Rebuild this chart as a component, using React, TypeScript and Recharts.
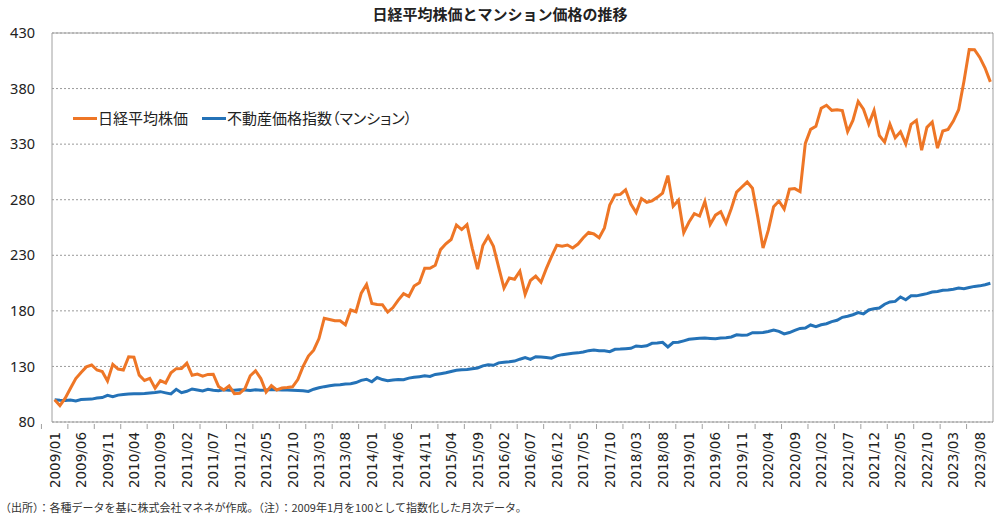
import React from 'react';
import { LineChart, Line, XAxis, YAxis, CartesianGrid, ReferenceLine } from 'recharts';

const years = [2009, 2010, 2011, 2012, 2013, 2014, 2015, 2016, 2017, 2018, 2019, 2020, 2021, 2022, 2023];
const lastMonth2023 = 10;

const nikkei = [
  100.0, 94.7, 101.4, 110.4, 119.1, 124.6, 129.6, 131.3, 126.8, 125.5, 116.9, 131.9,
  127.6, 126.7, 138.7, 138.3, 122.2, 117.4, 119.3, 110.4, 117.2, 115.1, 124.3, 128.0,
  128.1, 132.9, 122.0, 123.2, 121.3, 122.8, 123.0, 112.0, 108.8, 112.4, 105.5, 105.8,
  110.1, 121.6, 126.1, 119.1, 106.9, 112.7, 108.8, 110.6, 111.0, 111.7, 118.2, 130.0,
  139.3, 144.6, 155.1, 173.4, 172.3, 171.1, 171.0, 167.5, 180.8, 179.2, 195.9, 203.8,
  186.6, 185.7, 185.5, 178.9, 183.0, 189.7, 195.4, 193.0, 202.3, 205.3, 218.4, 218.3,
  221.1, 235.1, 240.3, 244.2, 257.2, 253.1, 257.5, 236.3, 217.5, 238.7, 247.0, 238.1,
  219.1, 200.5, 209.6, 208.5, 215.6, 194.8, 207.3, 211.2, 205.8, 218.0, 229.0, 239.1,
  238.2, 239.2, 236.5, 240.1, 245.8, 250.6, 249.2, 245.8, 254.6, 275.3, 284.3, 284.8,
  288.9, 276.1, 268.4, 281.1, 277.7, 279.0, 282.1, 286.0, 301.7, 274.2, 279.6, 250.4,
  259.9, 267.5, 265.3, 278.4, 257.7, 266.1, 269.2, 259.0, 272.1, 286.8, 291.4, 295.9,
  290.3, 264.5, 236.6, 252.6, 273.7, 278.8, 271.6, 289.5, 290.0, 287.4, 330.7, 343.3,
  346.0, 362.3, 365.0, 360.4, 361.0, 360.2, 341.3, 351.4, 368.4, 361.4, 348.0, 360.2,
  337.8, 331.8, 348.0, 335.8, 341.2, 330.2, 347.8, 351.4, 324.5, 345.1, 349.9, 326.4,
  341.8, 343.3, 350.8, 361.0, 386.4, 415.2, 415.0, 408.0, 398.5, 386.0,
];

const mansion = [
  100.0, 99.5, 99.3, 99.8, 99.0, 100.2, 100.4, 100.6, 101.5, 102.0, 104.0, 102.8,
  104.2, 104.8, 105.2, 105.5, 105.5, 105.6, 106.0, 106.5, 107.3, 106.2, 105.2, 109.4,
  106.4, 107.6, 109.7, 108.8, 108.0, 109.4, 108.5, 108.2, 109.0, 108.5, 108.6, 109.0,
  108.8, 108.4, 109.0, 108.6, 108.8, 109.2, 109.0, 108.7, 108.8, 108.6, 108.4, 108.2,
  107.5, 109.5, 110.8, 111.8, 112.6, 113.3, 113.6, 114.2, 114.4, 115.5, 117.5, 118.5,
  116.2, 120.0, 118.2, 117.2, 117.8, 118.2, 118.0, 119.5, 120.2, 120.8, 121.5, 121.0,
  122.8, 123.5, 124.3, 125.5, 126.5, 127.0, 127.3, 128.0, 128.6, 130.5, 131.5, 131.0,
  133.2, 133.8, 134.2, 134.8, 136.5, 138.0, 136.4, 138.8, 138.5, 138.0, 137.4, 139.5,
  140.6, 141.2, 141.8, 142.2, 143.0, 144.2, 144.8, 144.2, 144.0, 143.3, 145.4, 145.6,
  146.0, 146.3, 148.4, 148.0, 148.6, 150.8, 151.0, 151.7, 147.5, 151.5, 151.7, 153.0,
  154.4, 155.0, 155.3, 155.5, 155.2, 155.0, 155.5, 155.8, 156.5, 158.5, 158.0, 158.2,
  160.4, 160.2, 160.6, 161.5, 162.8, 161.5, 159.2, 160.5, 162.5, 164.2, 164.5, 167.3,
  165.8, 167.5, 168.4, 170.3, 171.5, 174.2, 175.2, 176.5, 178.4, 177.2, 180.8, 182.0,
  182.5, 186.0, 188.0, 188.5, 192.5, 190.0, 193.5, 193.5, 194.5, 195.5, 197.0, 197.5,
  198.5, 198.8, 199.5, 200.5, 200.0, 201.0, 202.0, 202.5, 203.5, 204.8,
];

const yTicks = [80, 130, 180, 230, 280, 330, 380, 430];
const tickStep = 5;

const months: string[] = [];
years.forEach((yr) => {
  const last = yr === 2023 ? lastMonth2023 : 12;
  for (let m = 1; m <= last; m++) months.push(`${yr}/${String(m).padStart(2, '0')}`);
});

const data = months.map((label, i) => ({ i, label, nikkei: nikkei[i], mansion: mansion[i] }));
const xTicks = months.map((_, i) => i).filter((i) => i % tickStep === 0);

const W = 1000;
const H = 517;
const LEFT = 52;
const RIGHT = 7;
const TOP = 33;
const XH = 95;
const PLOT_W = W - LEFT - RIGHT;
const N = months.length;

const ORANGE = '#EE7626';
const BLUE = '#2472B7';
const AXIS = '#A0A0A0';

const XTick = (props: any) => {
  const { x, y, payload } = props;
  const off = (tickStep / 2) * (PLOT_W / N);
  return (
    <g>
      <line x1={x - off} x2={x - off} y1={y} y2={y + 5} stroke={AXIS} strokeWidth={1} />
      <text
        transform={`translate(${x},${y + 8}) rotate(-90)`}
        textAnchor="end"
        dominantBaseline="central"
        fontSize={13.5}
        fontFamily="DejaVu Sans"
        fill="#222"
      >
        {months[payload.value]}
      </text>
    </g>
  );
};

export default function App() {
  return (
    <div style={{ position: 'absolute', left: 0, top: 0, width: W, height: H, background: '#fff' }}>
      <LineChart
        width={W}
        height={H}
        data={data}
        margin={{ top: TOP, right: RIGHT, left: 0, bottom: 0 }}
      >
        <CartesianGrid vertical={false} stroke="#9a9a9a" strokeDasharray="2 2" />
        <XAxis
          dataKey="i"
          type="number"
          domain={[-0.5, N - 0.5]}
          ticks={xTicks}
          interval={0}
          height={XH}
          tickSize={0}
          tickLine={false}
          axisLine={{ stroke: AXIS }}
          tick={<XTick />}
        />
        <YAxis
          type="number"
          domain={[80, 430]}
          ticks={yTicks}
          interval={0}
          width={LEFT}
          tickSize={0}
          tickMargin={17}
          tickLine={false}
          axisLine={{ stroke: AXIS }}
          tick={{ fontSize: 14.5, fill: '#222', fontFamily: 'Noto Sans' }}
        />
        <ReferenceLine y={430} stroke={AXIS} />
        <ReferenceLine x={N - 0.5} stroke={AXIS} />
        <Line
          type="linear"
          dataKey="mansion"
          stroke={BLUE}
          strokeWidth={3}
          dot={false}
          isAnimationActive={false}
        />
        <Line
          type="linear"
          dataKey="nikkei"
          stroke={ORANGE}
          strokeWidth={3}
          dot={false}
          isAnimationActive={false}
        />
      </LineChart>
      <div
        style={{
          position: 'absolute',
          left: 0,
          top: 4,
          width: W,
          textAlign: 'center',
          fontFamily: '"Noto Sans CJK JP"',
          fontWeight: 700,
          fontSize: 15,
          color: '#222',
          lineHeight: '20px',
        }}
      >
        日経平均株価とマンション価格の推移
      </div>
      <div
        style={{
          position: 'absolute',
          left: 73,
          top: 107,
          display: 'flex',
          alignItems: 'center',
          fontFamily: '"Noto Sans CJK JP"',
          fontSize: 15,
          color: '#222',
          lineHeight: '22px',
          fontFeatureSettings: '"palt"',
        }}
      >
        <span style={{ display: 'inline-block', width: 24, height: 3, background: ORANGE, marginRight: 1 }} />
        <span>日経平均株価</span>
        <span style={{ display: 'inline-block', width: 24, height: 3, background: BLUE, marginLeft: 14, marginRight: 1 }} />
        <span>不動産価格指数（マンション）</span>
      </div>
      <div
        style={{
          position: 'absolute',
          left: 0,
          top: 499,
          fontFamily: '"Noto Sans CJK JP"',
          fontSize: 11,
          color: '#333',
          lineHeight: '16px',
          whiteSpace: 'nowrap',
        }}
      >
        （出所）：各種データを基に株式会社マネネが作成。（注）：2009年1月を100として指数化した月次データ。
      </div>
    </div>
  );
}
